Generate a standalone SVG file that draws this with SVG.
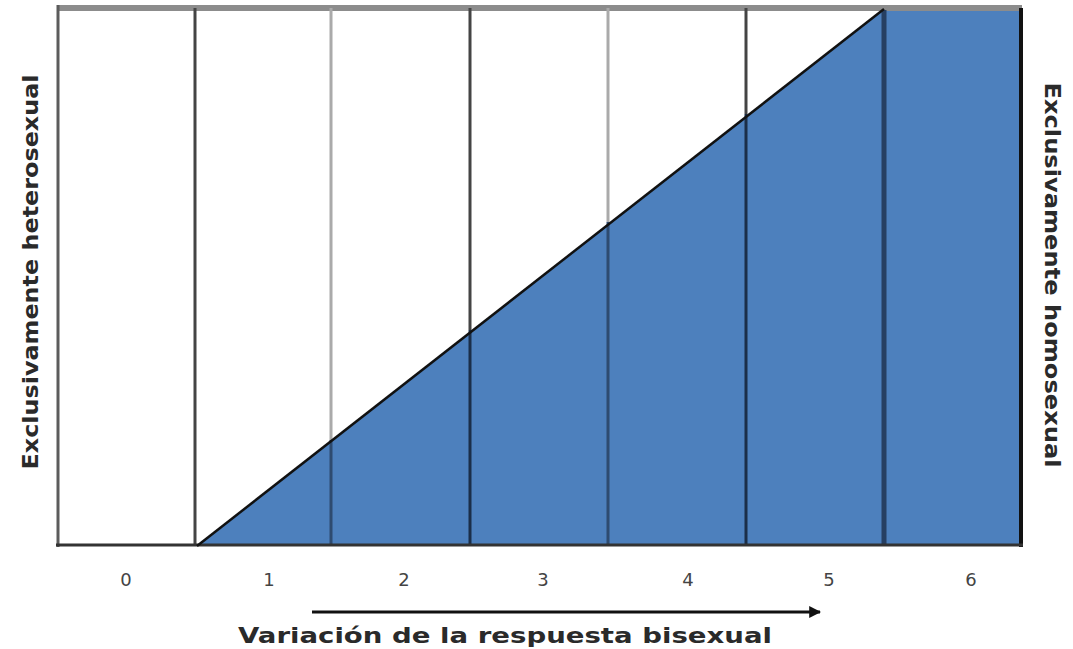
<svg xmlns="http://www.w3.org/2000/svg" width="1073" height="649" viewBox="0 0 1073 649">
<defs>
<style>
.num{font-family:"DejaVu Sans",sans-serif;font-size:18px;fill:#444;text-anchor:middle}
.lab{font-family:"DejaVu Sans",sans-serif;font-size:22px;font-weight:bold;fill:#2a2a2a;text-anchor:middle}
.vl{stroke-width:3}
</style>
<marker id="ah" viewBox="0 0 10 10" refX="9" refY="5" markerWidth="4" markerHeight="4" orient="auto">
<path d="M0,0 L10,5 L0,10 z" fill="#111"/>
</marker>
</defs>
<rect width="1073" height="649" fill="#fff"/>
<g id="fill">
<polygon points="197,546 884,9 1022,9 1022,546" fill="#4d80bd"/>
</g>
<g id="grid">
<line x1="57" y1="8" x2="1022" y2="8" stroke="#8c8c8c" stroke-width="6"/>
<line x1="58" y1="5" x2="58" y2="547" stroke="#5c5c5c" stroke-width="3"/>
<line class="vl" x1="195" y1="8" x2="195" y2="546" stroke="#444"/>
<line class="vl" x1="331" y1="8" x2="331" y2="440" stroke="#aaa"/>
<line class="vl" x1="331" y1="440" x2="331" y2="546" stroke="#2e4b70"/>
<line class="vl" x1="470" y1="8" x2="470" y2="330" stroke="#444"/>
<line class="vl" x1="470" y1="330" x2="470" y2="546" stroke="#1b2e48"/>
<line class="vl" x1="608" y1="8" x2="608" y2="222" stroke="#aaa"/>
<line class="vl" x1="608" y1="222" x2="608" y2="546" stroke="#2e4b70"/>
<line class="vl" x1="746" y1="8" x2="746" y2="114" stroke="#444"/>
<line class="vl" x1="746" y1="114" x2="746" y2="546" stroke="#1b2e48"/>
<line x1="884" y1="10" x2="884" y2="546" stroke="#263f62" stroke-width="5"/>
<line x1="1021" y1="8" x2="1021" y2="547" stroke="#111" stroke-width="4"/>
<line x1="56" y1="545" x2="1023" y2="545" stroke="#333" stroke-width="3"/>
<line x1="197" y1="546" x2="884" y2="9" stroke="#111" stroke-width="2.5"/>
</g>
<g id="numbers">
<text class="num" x="126" y="586">0</text>
<text class="num" x="269" y="586">1</text>
<text class="num" x="404" y="586">2</text>
<text class="num" x="543" y="586">3</text>
<text class="num" x="688" y="586">4</text>
<text class="num" x="829" y="586">5</text>
<text class="num" x="971" y="586">6</text>
</g>
<g id="connectors">
<line x1="312" y1="612" x2="820" y2="612" stroke="#111" stroke-width="3" marker-end="url(#ah)"/>
</g>
<g id="labels">
<text class="lab" x="505" y="643" textLength="534" lengthAdjust="spacingAndGlyphs">Variación de la respuesta bisexual</text>
<text class="lab" transform="translate(38,272) rotate(-90)" textLength="395" lengthAdjust="spacingAndGlyphs">Exclusivamente heterosexual</text>
<text class="lab" transform="translate(1045,275) rotate(90)" textLength="385" lengthAdjust="spacingAndGlyphs">Exclusivamente homosexual</text>
</g>
</svg>
